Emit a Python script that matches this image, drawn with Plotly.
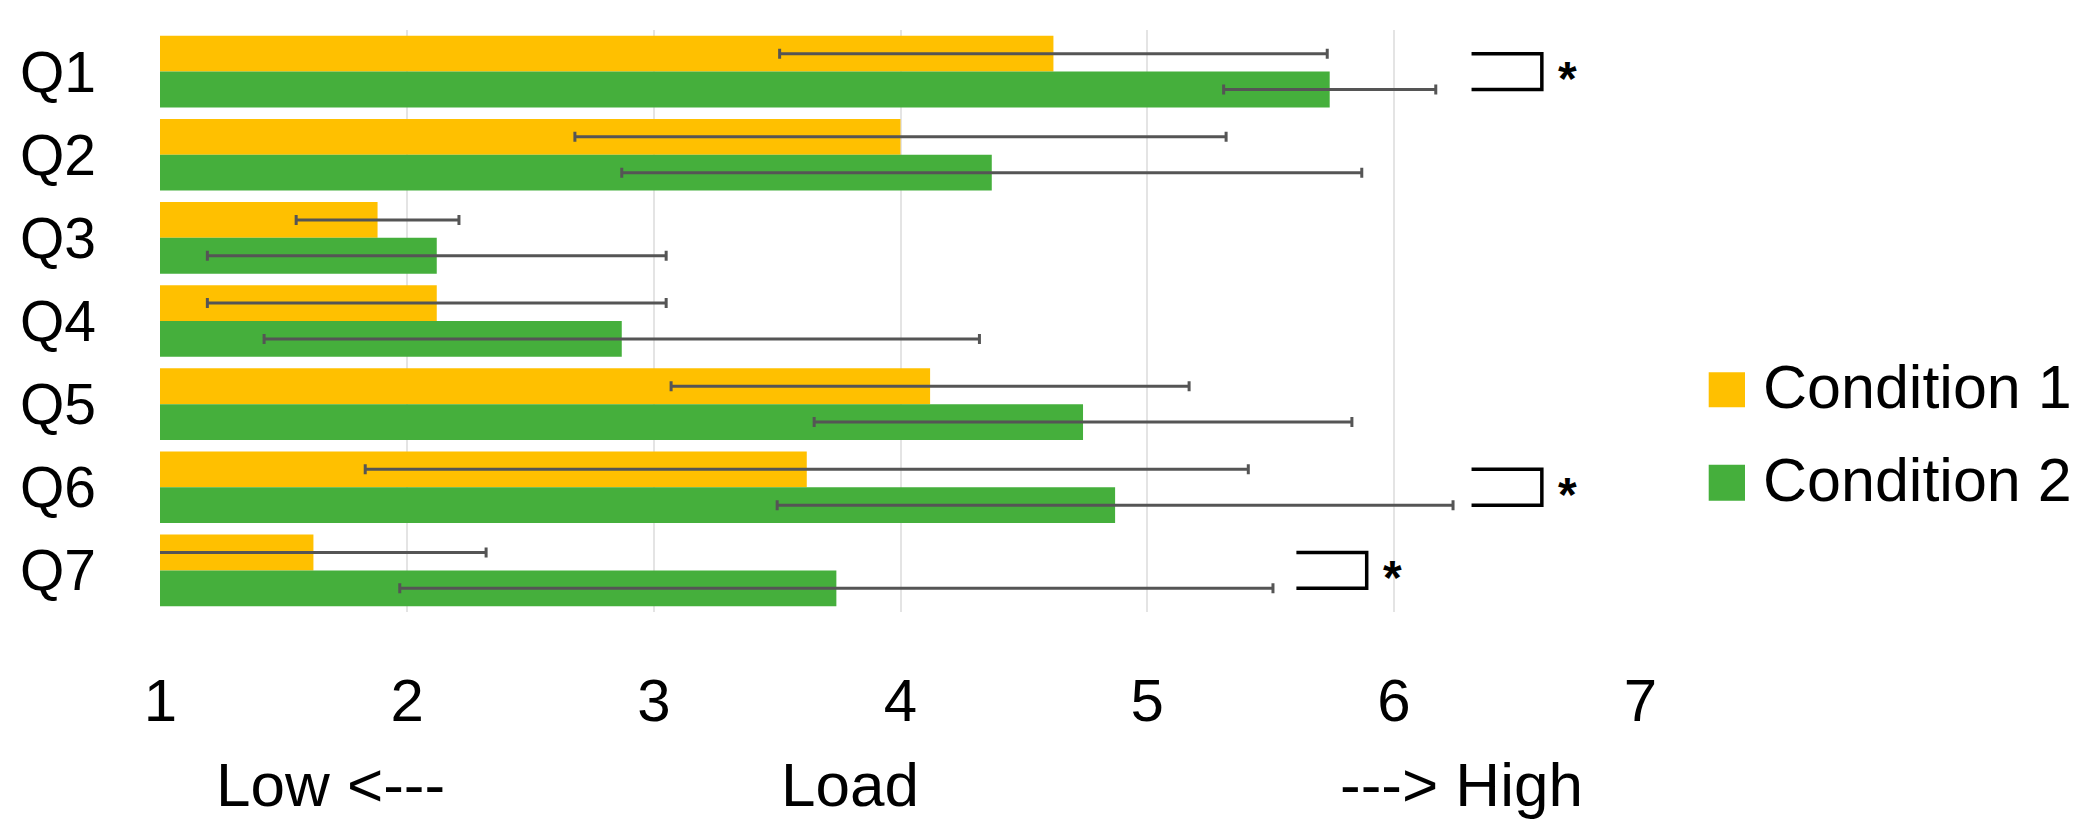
import plotly.graph_objects as go

# questions and mean load ratings (1-7 scale)
questions = ["Q1", "Q2", "Q3", "Q4", "Q5", "Q6", "Q7"]
cond1_mean = [4.62, 4.00, 1.88, 2.12, 4.12, 3.62, 1.62]
cond1_sd = [1.11, 1.32, 0.33, 0.93, 1.05, 1.79, 0.70]
cond2_mean = [5.74, 4.37, 2.12, 2.87, 4.74, 4.87, 3.74]
cond2_sd = [0.43, 1.50, 0.93, 1.45, 1.09, 1.37, 1.77]

series_names = ["Condition 1", "Condition 2"]
tick_values = [1, 2, 3, 4, 5, 6, 7]

# significant differences, marked with a bracket and an asterisk
sig_questions = ["Q1", "Q6", "Q7"]
sig_bracket_start = [6.315, 6.315, 5.605]

YELLOW = "#FFC000"
GREEN = "#45AF3C"
ERR = "#555555"
FONT = "Liberation Sans, Arial, Helvetica, sans-serif"

W, H = 2095, 833
L, R, T, B = 152, 462, 22, 229
BARGAP = 0.138

fig = go.Figure()
for name, means, sds, color in [
    (series_names[0], cond1_mean, cond1_sd, YELLOW),
    (series_names[1], cond2_mean, cond2_sd, GREEN),
]:
    fig.add_trace(go.Bar(
        name=name,
        y=questions,
        x=means,
        orientation="h",
        marker=dict(color=color, line=dict(width=0)),
        error_x=dict(type="data", array=sds, visible=True,
                     color=ERR, thickness=3, width=5),
        showlegend=False,
    ))

# brackets + stars
half = (1 - BARGAP) / 4
bracket_w = 0.285
for q, x0 in zip(sig_questions, sig_bracket_start):
    i = questions.index(q)
    x1 = x0 + bracket_w
    fig.add_shape(
        type="path",
        xref="x", yref="y",
        path=f"M {x0},{i - half} L {x1},{i - half} L {x1},{i + half} L {x0},{i + half}",
        line=dict(color="black", width=3.5),
    )
    fig.add_annotation(
        x=x1 + 0.105, y=q, xref="x", yref="y",
        text="<b>*</b>", showarrow=False,
        font=dict(family=FONT, size=48, color="black"),
        xanchor="center", yanchor="middle", yshift=-7,
    )

# bottom scale description
pw = W - L - R
ph = H - T - B
def px_to_paper_y(py):
    return (H - B - py) / ph

for text, x, anchor in [("Low <---", 1.217, "left"),
                        ("Load", 3.506, "left"),
                        ("---> High", 6.774, "right")]:
    fig.add_annotation(
        x=x, y=px_to_paper_y(776), xref="x", yref="paper",
        text=text, showarrow=False,
        font=dict(family=FONT, size=62, color="black"),
        xanchor=anchor, yanchor="middle",
    )

# legend drawn by hand so the swatches can match the large text
legend_rows = [(364.3, 399.3, 379.0, YELLOW), (456.7, 492.7, 472.0, GREEN)]
for name, (sy0, sy1, ty, color) in zip(series_names, legend_rows):
    fig.add_shape(
        type="rect", xref="paper", yref="paper",
        x0=(1700.7 - L) / pw, x1=(1737 - L) / pw,
        y0=px_to_paper_y(sy1), y1=px_to_paper_y(sy0),
        fillcolor=color, line=dict(width=0),
    )
    fig.add_annotation(
        x=(1753 - L) / pw, y=px_to_paper_y(ty), xref="paper", yref="paper",
        text=name, showarrow=False,
        font=dict(family=FONT, size=61, color="black"),
        xanchor="left", yanchor="middle",
    )

fig.update_layout(
    width=W, height=H,
    margin=dict(l=L, r=R, t=T, b=B),
    barmode="group",
    bargap=BARGAP,
    bargroupgap=0,
    plot_bgcolor="white",
    paper_bgcolor="white",
    font=dict(family=FONT, color="black"),
    showlegend=False,
)
fig.update_xaxes(
    range=[0.998, 7.002],
    tickvals=tick_values,
    ticktext=[str(v) for v in tick_values],
    showgrid=True, gridcolor="#e4e4e4", gridwidth=1.5,
    zeroline=False, showline=False, ticks="",
    tickfont=dict(family=FONT, size=60, color="black"),
    ticklabelstandoff=48,
)
fig.update_yaxes(
    categoryorder="array", categoryarray=questions,
    autorange="reversed",
    showgrid=False, zeroline=False, showline=False, ticks="",
    tickfont=dict(family=FONT, size=57, color="black"),
    ticklabelstandoff=63,
)

fig.write_html("out.html")
